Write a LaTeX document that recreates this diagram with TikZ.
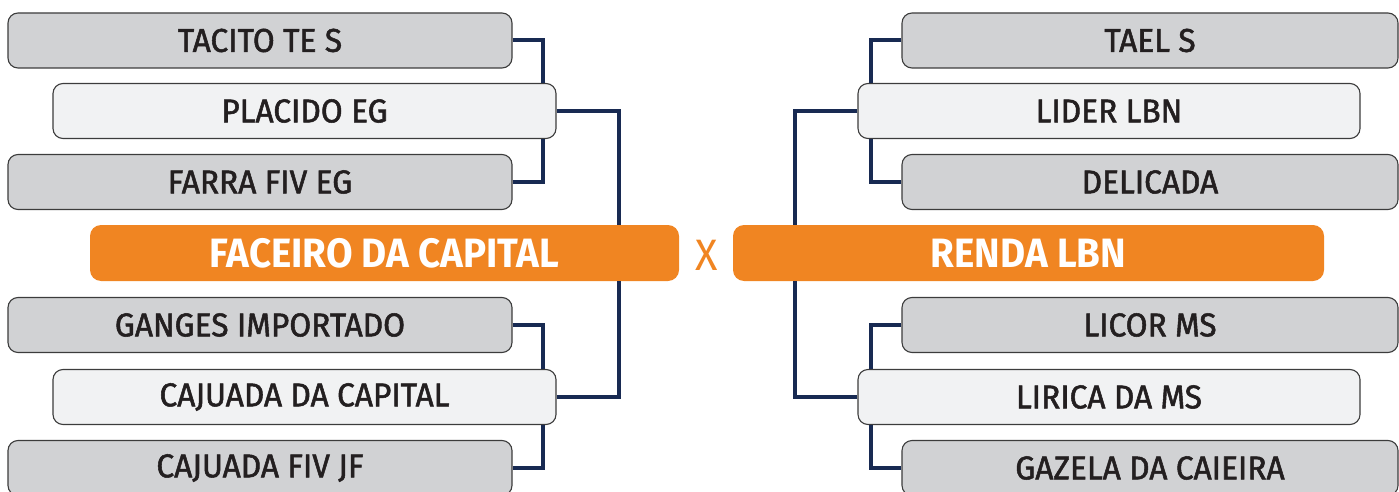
\documentclass[tikz,border=0pt]{standalone}
\usepackage{fontspec}
\setmainfont{Fira Sans}[FakeStretch=0.94]
\newfontfamily\horsefont{Fira Sans}[FakeStretch=0.96, FakeBold=1.6]
\usepackage{xcolor}
\usepackage{tikz}
\usetikzlibrary{positioning,calc}

\definecolor{boxgray}{HTML}{D1D2D4}
\definecolor{boxlight}{HTML}{F1F2F3}
\definecolor{edgegray}{HTML}{3C3C3C}
\definecolor{navy}{HTML}{182A52}
\definecolor{brand}{HTML}{F08522}
\definecolor{ink}{HTML}{231F20}

\tikzset{
    horse/.style={draw=edgegray, line width=1.1pt, rounded corners=10pt, minimum height=55pt, inner sep=0pt, text=ink, font=\horsefont\fontsize{33}{36}\selectfont},
    outer/.style={horse, fill=boxgray, minimum width=504pt},
    inner/.style={horse, fill=boxlight, minimum width=503pt},
    final/.style={fill=brand, rounded corners=11pt, minimum height=56pt, inner sep=0pt, text=white, font=\fontsize{41}{44}\selectfont\bfseries},
    link/.style={draw=navy, line width=4pt}
}

\begin{document}
\begin{tikzpicture}[x=1pt,y=-1pt]
    \useasboundingbox (0,0) rectangle (1399,492);

    % Left bracket
    \node[outer] (tacito) at (260,40.5) {TACITO TE S};
    \node[inner] (placido) at (304.5,111) {PLACIDO EG};
    \node[outer] (farra) at (260,182) {FARRA FIV EG};
    \node[final, minimum width=589pt] (faceiro) at (384.5,253) {FACEIRO DA CAPITAL};
    \node[outer] (ganges) at (260,325) {GANGES IMPORTADO};
    \node[inner] (cajcap) at (304.5,397) {CAJUADA DA CAPITAL};
    \node[outer] (cajfiv) at (260,468) {CAJUADA FIV JF};

    % Right bracket
    \node[outer, minimum width=496pt] (tael) at (1150,40.5) {TAEL S};
    \node[inner, minimum width=502pt] (lider) at (1109,111) {LIDER LBN};
    \node[outer, minimum width=496pt] (delicada) at (1150,182) {DELICADA};
    \node[final, minimum width=591pt] (renda) at (1028.5,253) {RENDA LBN};
    \node[outer, minimum width=496pt] (licor) at (1150,325) {LICOR MS};
    \node[inner, minimum width=502pt] (lirica) at (1109,397) {LIRICA DA MS};
    \node[outer, minimum width=496pt] (gazela) at (1150,468) {GAZELA DA CAIEIRA};

    \node[text=brand, font=\fontsize{44}{46}\selectfont] (vs) at (707,255) {X};

    % Connectors
    \coordinate (xl1) at (543,0);
    \coordinate (xl2) at (619,0);
    \coordinate (xr1) at (871,0);
    \coordinate (xr2) at (795,0);
    \draw[link] (tacito.east) -| (xl1 |- placido.north);
    \draw[link] (farra.east) -| (xl1 |- placido.south);
    \draw[link] (placido.east) -| (xl2 |- faceiro.north);
    \draw[link] (ganges.east) -| (xl1 |- cajcap.north);
    \draw[link] (cajfiv.east) -| (xl1 |- cajcap.south);
    \draw[link] (cajcap.east) -| (xl2 |- faceiro.south);
    \draw[link] (tael.west) -| (xr1 |- lider.north);
    \draw[link] (delicada.west) -| (xr1 |- lider.south);
    \draw[link] (lider.west) -| (xr2 |- renda.north);
    \draw[link] (licor.west) -| (xr1 |- lirica.north);
    \draw[link] (gazela.west) -| (xr1 |- lirica.south);
    \draw[link] (lirica.west) -| (xr2 |- renda.south);
\end{tikzpicture}
\end{document}
